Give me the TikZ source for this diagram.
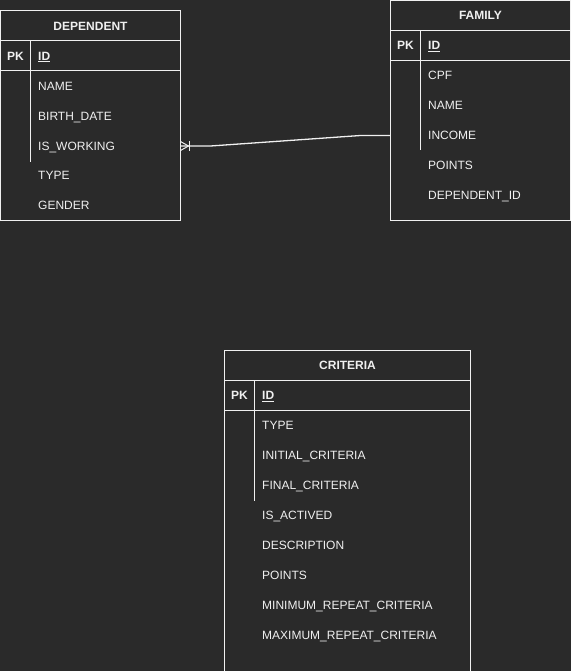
\documentclass[tikz,border=0pt]{standalone}
\usepackage{fontspec}
\setmainfont{Liberation Sans}
\definecolor{bg}{HTML}{2A2A2A}
\definecolor{fg}{HTML}{F0F0F0}
\begin{document}
\begin{tikzpicture}[x=1pt,y=-1pt,
  tbl/.style={draw=fg, line width=1pt, anchor=north west, inner sep=0pt, outer sep=0pt, minimum width=#1},
  fld/.style={text=fg, anchor=west, font=\fontsize{12}{14}\selectfont, inner sep=0pt, text height=8.6pt, text depth=0pt},
  hdr/.style={text=fg, font=\bfseries\fontsize{12}{14}\selectfont, inner sep=0pt, text height=8.6pt, text depth=0pt},
  rule/.style={draw=fg, line width=1pt},
  conn/.style={draw=fg, line width=1.3pt}]
\fill[bg] (0,0) rectangle (571,671);
\useasboundingbox (0,0) rectangle (571,671);

% DEPENDENT
\node[tbl=180pt, minimum height=209.5pt] (dep) at (0.5,11) {};
\draw[rule] (0.5,41) -- (180.5,41);
\draw[rule] (0.5,71) -- (180.5,71);
\draw[rule] (30.5,41) -- (30.5,162);
\node[hdr] (depT) at (90.5,26) {DEPENDENT};
\node[hdr] (depPK) at (15.5,56) {PK};
\node[fld, font=\bfseries\fontsize{12}{14}\selectfont] (depId) at (38,56) {\underline{ID}};
\node[fld] (depName) at (38,86) {NAME};
\node[fld] (depBirth) at (38,116) {BIRTH\_DATE};
\node[fld] (depWork) at (38,146) {IS\_WORKING};
\node[fld] (depType) at (38,175.5) {TYPE};
\node[fld] (depGender) at (38,205.5) {GENDER};

% FAMILY
\node[tbl=180pt, minimum height=219pt] (fam) at (390.5,1) {};
\draw[rule] (390.5,30.5) -- (570.5,30.5);
\draw[rule] (390.5,60.5) -- (570.5,60.5);
\draw[rule] (420.5,30.5) -- (420.5,150.5);
\node[hdr] (famT) at (480.5,15.5) {FAMILY};
\node[hdr] (famPK) at (405.5,45.5) {PK};
\node[fld, font=\bfseries\fontsize{12}{14}\selectfont] (famId) at (428,45.5) {\underline{ID}};
\node[fld] (famCpf) at (428,75.5) {CPF};
\node[fld] (famName) at (428,105.5) {NAME};
\node[fld] (famIncome) at (428,135.5) {INCOME};
\node[fld] (famPoints) at (428,165.5) {POINTS};
\node[fld] (famDep) at (428,195.5) {DEPENDENT\_ID};

% CRITERIA
\node[tbl=246pt, minimum height=320.5pt] (cri) at (224.5,350.5) {};
\draw[rule] (224.5,380.5) -- (470.5,380.5);
\draw[rule] (224.5,410.5) -- (470.5,410.5);
\draw[rule] (254.5,380.5) -- (254.5,500.5);
\node[hdr] (criT) at (347.5,365.5) {CRITERIA};
\node[hdr] (criPK) at (239.5,395.5) {PK};
\node[fld, font=\bfseries\fontsize{12}{14}\selectfont] (criId) at (262,395.5) {\underline{ID}};
\node[fld] (criType) at (262,425.5) {TYPE};
\node[fld] (criInit) at (262,455.5) {INITIAL\_CRITERIA};
\node[fld] (criFinal) at (262,485.5) {FINAL\_CRITERIA};
\node[fld] (criAct) at (262,515.5) {IS\_ACTIVED};
\node[fld] (criDesc) at (262,545.5) {DESCRIPTION};
\node[fld] (criPoints) at (262,575.5) {POINTS};
\node[fld] (criMin) at (262,605.5) {MINIMUM\_REPEAT\_CRITERIA};
\node[fld] (criMax) at (262,635.5) {MAXIMUM\_REPEAT\_CRITERIA};

% connector
\coordinate (c1) at (dep.east |- depWork);
\coordinate (c2) at (fam.west |- famIncome);
\draw[conn] (c1) -- ([xshift=30pt]c1) -- ([xshift=-30pt]c2) -- (c2);
\draw[conn, line width=1pt] ([yshift=4.5pt]c1) -- ([xshift=8pt]c1) -- ([yshift=-4.5pt]c1);
\draw[conn, line width=1pt] ([xshift=8.5pt,yshift=5pt]c1) -- ([xshift=8.5pt,yshift=-5pt]c1);
\end{tikzpicture}
\end{document}
